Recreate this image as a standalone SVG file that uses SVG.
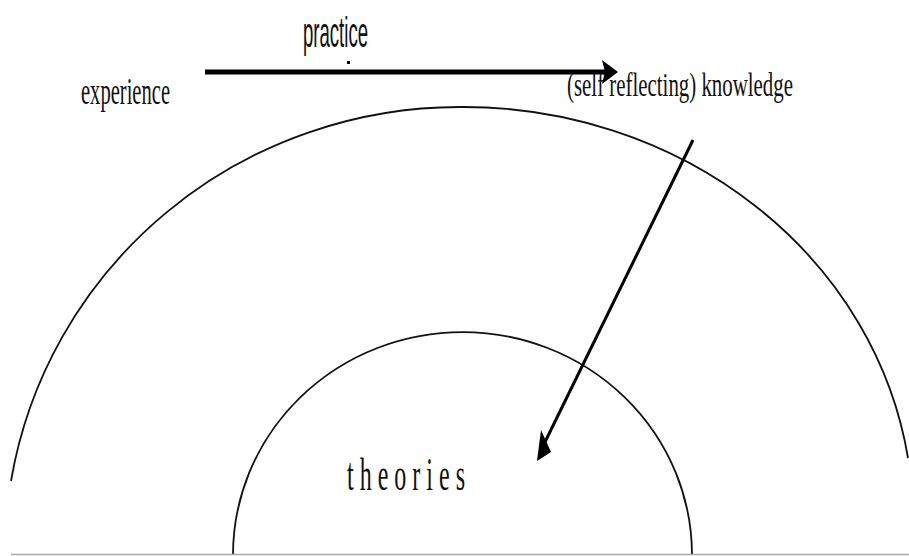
<svg xmlns="http://www.w3.org/2000/svg" width="909" height="556" viewBox="0 0 909 556">
<style>
.arc{fill:none;stroke:#111;stroke-width:1.8}
.serif{font-family:"Liberation Serif","Times New Roman",serif;fill:#111}
.sans{font-family:"Liberation Sans",Arial,sans-serif;fill:#111}
.conn{stroke:#000;fill:none}
.head{fill:#000}
</style>
<rect width="909" height="556" fill="#fff"/>
<g id="outer-arc">
<path class="arc" d="M 11,481 A 455 448 0 0 1 461,107 A 450 413 0 0 1 908,458"/>
</g>
<g id="inner-arc">
<path class="arc" d="M 233,555 A 229.5 223 0 0 1 692,555"/>
</g>
<line x1="11" y1="554.5" x2="909" y2="554.5" stroke="#a8a8a8" stroke-width="1.5"/>
<g id="experience">
<text class="serif" x="81" y="104" font-size="38" textLength="89" lengthAdjust="spacingAndGlyphs">experience</text>
</g>
<g id="practice">
<text class="sans" x="303" y="47" font-size="42" textLength="65" lengthAdjust="spacingAndGlyphs">practice</text>
<rect x="347" y="61" width="3" height="3" fill="#000"/>
</g>
<g id="knowledge">
<text class="serif" x="567" y="96" font-size="34" textLength="226" lengthAdjust="spacingAndGlyphs">(self reflecting) knowledge</text>
</g>
<g id="theories">
<text class="serif" x="347" y="490" font-size="46" textLength="118" lengthAdjust="spacingAndGlyphs">t h e o r i e s</text>
</g>
<g id="connectors">
<line class="conn" x1="205" y1="72" x2="606" y2="72" stroke-width="5"/>
<polygon class="head" points="602,60 618,72 602,84 605,72"/>
<line class="conn" x1="693" y1="140" x2="545" y2="442" stroke-width="3"/>
<polygon class="head" points="541,430 551,452 537,461"/>
</g>
</svg>
